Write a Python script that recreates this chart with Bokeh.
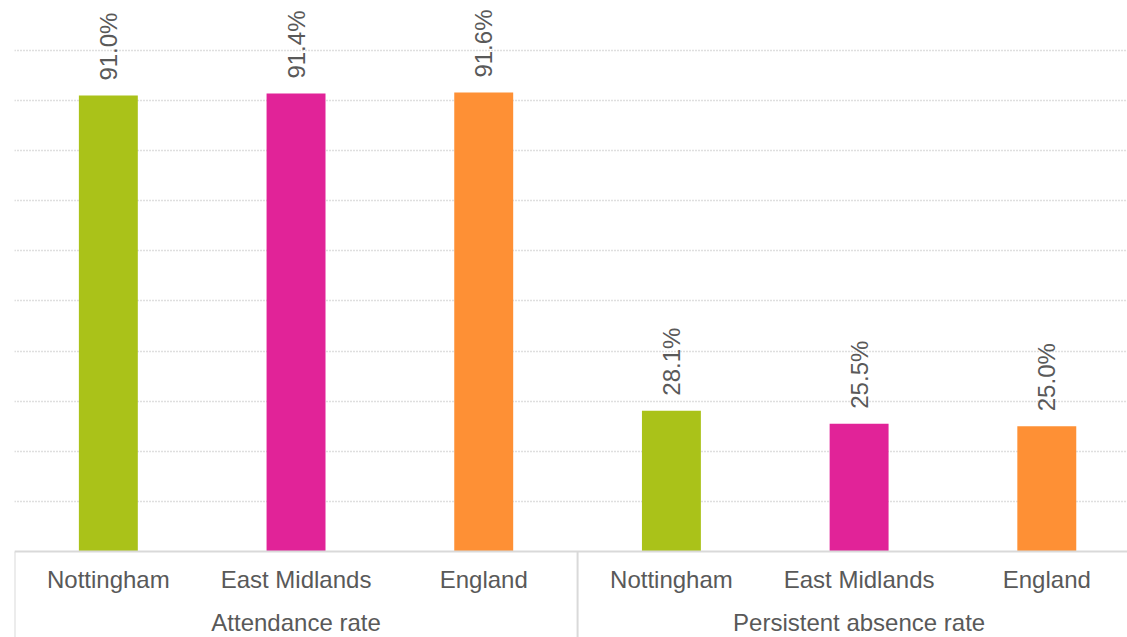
from bokeh.plotting import figure
from bokeh.models import Range1d, Grid, FixedTicker, Span, ColumnDataSource
from bokeh.core.properties import value
from bokeh.embed import file_html
from bokeh.resources import INLINE
import math

# ---- data ----
areas = ["Nottingham", "East Midlands", "England"]
measures = ["Attendance rate", "Persistent absence rate"]
attendance_rate = [91.0, 91.4, 91.6]
persistent_absence_rate = [28.1, 25.5, 25.0]
area_colors = ["#aac219", "#e12398", "#fe9035"]
grid_ticks = [10, 20, 30, 40, 50, 60, 70, 80, 90, 100]

FONT = value("Liberation Sans")
TXT = "#595959"

values = attendance_rate + persistent_absence_rate
xs = [i + 0.5 for i in range(len(values))]
src = ColumnDataSource(dict(
    x=xs,
    top=values,
    color=area_colors * len(measures),
    label=[f"{v:.1f}%" for v in values],
    area=areas * len(measures),
))

p = figure(width=1127, height=637, output_backend="svg", toolbar_location=None,
           x_range=Range1d(0, 5.93), y_range=Range1d(-17.17, 109.98),
           x_axis_location=None, y_axis_location=None,
           min_border_left=14, min_border_right=0, min_border_top=0, min_border_bottom=0)
p.outline_line_color = None
p.grid.visible = False
p.add_layout(Grid(dimension=1, ticker=FixedTicker(ticks=grid_ticks),
                  grid_line_color="#bfbfbf", grid_line_dash="1 2", grid_line_width=1.3))

p.vbar(x="x", top="top", bottom=0, width=0.314, fill_color="color", line_color=None, source=src)

# axis line and group separators
p.add_layout(Span(location=0, dimension="width", line_color="#d9d9d9", line_width=2))
ymin = p.y_range.start
p.segment(x0=[0, len(areas), 2 * len(areas)], y0=[0, 0, 0],
          x1=[0, len(areas), 2 * len(areas)], y1=[ymin] * 3,
          line_color="#d9d9d9", line_width=2)

# value labels (rotated)
p.text(x="x", y="top", text="label", source=src, angle=math.pi / 2,
       text_align="left", text_baseline="middle", y_offset=-15,
       text_font=FONT, text_font_size="24px", text_color=TXT)

# category labels
p.text(x="x", y=-5.69, text="area", source=src, text_align="center", text_baseline="alphabetic",
       text_font=FONT, text_font_size="24px", text_color=TXT)

# group labels
gx = [len(areas) * (j + 0.5) for j in range(len(measures))]
p.text(x=gx, y=[-14.1] * len(measures), text=measures, text_align="center", text_baseline="alphabetic",
       text_font=FONT, text_font_size="24px", text_color=TXT)

open("out.html", "w").write(file_html(p, INLINE))
